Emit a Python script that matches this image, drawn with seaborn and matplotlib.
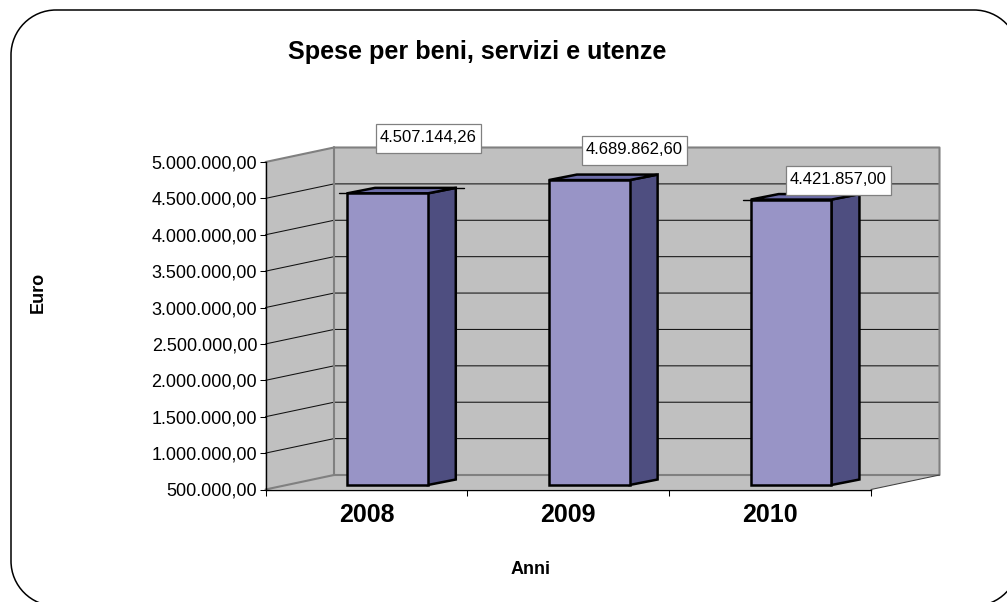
import matplotlib
matplotlib.use("Agg")
import matplotlib.pyplot as plt
import numpy as np
import pandas as pd
import seaborn as sns
from matplotlib.patches import PathPatch, Polygon, Rectangle
from matplotlib.path import Path
from matplotlib.transforms import Affine2D, IdentityTransform

# ---- data ----
years = ["2008", "2009", "2010"]
values = [4507144.26, 4689862.60, 4421857.00]
value_labels = ["4.507.144,26", "4.689.862,60", "4.421.857,00"]
y_ticks = [500000, 1000000, 1500000, 2000000, 2500000, 3000000,
           3500000, 4000000, 4500000, 5000000]
y_tick_labels = ["500.000,00", "1.000.000,00", "1.500.000,00", "2.000.000,00",
                 "2.500.000,00", "3.000.000,00", "3.500.000,00", "4.000.000,00",
                 "4.500.000,00", "5.000.000,00"]
title = "Spese per beni, servizi e utenze"
x_title = "Anni"
y_title = "Euro"

# ---- style / layout ----
W, H = 1007, 602
FRONT_FACE = "#9894C6"
SIDE_FACE = "#4E4E80"
TOP_FACE = "#6C6CA8"
WALL = "#C0C0C0"
WALL_EDGE = "#808080"
BAR_LW = 1.8
L, R, T, B = 265.5, 871.0, 162.0, 489.5     # front plane, px (y from top)
DEPTH = (68.5, 14.5)                         # wall depth, px
BAR_SHIFT = (21.0, 4.5)                      # bar front face, px
BAR_DEPTH = (28.0, 5.5)                      # bar thickness, px
LABEL_CENTRES = [(428.5, 138.5), (634, 150.5), (838.5, 180.5)]  # px from top
LABEL_BOX = (105, 29)
SPIKES = [(8, 8), (0, 0), (8, 0)]            # stray top-edge overshoots, px

sns.set_theme(style="white")
plt.rcParams["font.family"] = ["Liberation Sans", "DejaVu Sans"]

fig = plt.figure(figsize=(W / 100, H / 100), dpi=100, facecolor="white")
ax = fig.add_axes([L / W, 1 - B / H, (R - L) / W, (B - T) / H])
ax.patch.set_visible(False)
ax.set_zorder(2)

df = pd.DataFrame({"anno": years, "valore": values})
sns.barplot(data=df, x="anno", y="valore", ax=ax, width=0.4, color=FRONT_FACE,
            saturation=1, edgecolor="black", linewidth=BAR_LW, zorder=5)
ax.set_xlim(-0.5, 2.5)
ax.set_ylim(y_ticks[0], y_ticks[-1])


def shift(d):
    return ax.transData + Affine2D().translate(*d)


x0, x1 = ax.get_xlim()
y0, y1 = ax.get_ylim()
back = shift(DEPTH)
base = ax.transData
I = IdentityTransform()


def px(x, y, tr=base):
    return tr.transform((x, y))


def pline(pts, **kw):
    pts = np.array(pts)
    fig.add_artist(plt.Line2D(pts[:, 0], pts[:, 1], transform=I, **kw))


# rounded outer frame, runs off the right and bottom of the image
fl, fr, ft, fb, r = 11.0, 1019.0, 10.0, 606.0, 45.0
k = r * 0.5523
Yf = lambda y: H - y
verts = [(fl + r, Yf(ft)), (fr - r, Yf(ft)),
         (fr - r + k, Yf(ft)), (fr, Yf(ft + r - k)), (fr, Yf(ft + r)),
         (fr, Yf(fb - r)),
         (fr, Yf(fb - r + k)), (fr - r + k, Yf(fb)), (fr - r, Yf(fb)),
         (fl + r, Yf(fb)),
         (fl + r - k, Yf(fb)), (fl, Yf(fb - r + k)), (fl, Yf(fb - r)),
         (fl, Yf(ft + r)),
         (fl, Yf(ft + r - k)), (fl + r - k, Yf(ft)), (fl + r, Yf(ft))]
codes = [Path.MOVETO, Path.LINETO, Path.CURVE4, Path.CURVE4, Path.CURVE4, Path.LINETO,
         Path.CURVE4, Path.CURVE4, Path.CURVE4, Path.LINETO,
         Path.CURVE4, Path.CURVE4, Path.CURVE4, Path.LINETO,
         Path.CURVE4, Path.CURVE4, Path.CURVE4]
fig.add_artist(PathPatch(Path(verts, codes), facecolor="white", edgecolor="black", lw=1.1,
                         transform=I, zorder=0.2))

# walls and floor
wall_polys = [
    [px(x0, y0, back), px(x1, y0, back), px(x1, y1, back), px(x0, y1, back)],
    [px(x0, y0), px(x0, y0, back), px(x0, y1, back), px(x0, y1)],
    [px(x0, y0), px(x1, y0), px(x1, y0, back), px(x0, y0, back)],
]
for pts in wall_polys:
    fig.add_artist(Polygon(pts, closed=True, facecolor=WALL, edgecolor="none",
                           transform=I, zorder=0.5))

# gridlines on both walls
for t in y_ticks[1:-1]:
    pline([px(x0, t), px(x0, t, back), px(x1, t, back)], color="#111111", lw=0.75, zorder=0.7)

# wall edges
pline([px(x0, y1), px(x0, y1, back), px(x1, y1, back), px(x1, y0, back), px(x0, y0, back), px(x0, y0)],
      color=WALL_EDGE, lw=1.5, zorder=0.8)
pline([px(x0, y1, back), px(x0, y0, back)], color=WALL_EDGE, lw=1.5, zorder=0.8)
pline([px(x1, y0), px(x1, y0, back)], color="#404040", lw=0.75, zorder=0.9)

# 3D bars: rest the front faces on the axis floor, shift them, add side and top faces
s = shift(BAR_SHIFT)
d = np.array(BAR_DEPTH)
for bar, val, (sl, sr) in zip(ax.patches, values, SPIKES):
    bar.set_y(y0)
    bar.set_height(val - y0)
    bar.set_transform(s)
    bar.set_clip_on(False)
    bar.set_joinstyle("miter")
    xa, xb = bar.get_x(), bar.get_x() + bar.get_width()
    a, b, c = px(xb, y0, s), px(xb, val, s), px(xa, val, s)
    fig.add_artist(Polygon([a, a + d, b + d, b], closed=True, facecolor=SIDE_FACE,
                           edgecolor="black", linewidth=BAR_LW, joinstyle="miter",
                           transform=I, clip_on=False, zorder=1.0))
    fig.add_artist(Polygon([c, b, b + d, c + d], closed=True, facecolor=TOP_FACE,
                           edgecolor="black", linewidth=BAR_LW, joinstyle="miter",
                           transform=I, clip_on=False, zorder=1.0))
    if sl:
        pline([c, c - np.array([sl, 0])], color="black", lw=1.0, zorder=1.1)
    if sr:
        pline([b + d, b + d + np.array([sr, 0])], color="black", lw=1.0, zorder=1.1)

# axes furniture
for name, sp in ax.spines.items():
    sp.set_visible(name in ("left", "bottom"))
    sp.set_color("black")
    sp.set_linewidth(1.0)
ax.set_yticks(y_ticks)
ax.set_yticklabels(y_tick_labels, fontsize=13, color="black")
ax.set_xticks([-0.5, 0.5, 1.5, 2.5], labels=[""] * 4)
ax.tick_params(axis="both", which="major", left=True, bottom=True, length=4.5,
               width=0.75, color="black", pad=1.5)
ax.set_xlabel("")
ax.set_ylabel("")
year_tr = ax.get_xaxis_transform() + Affine2D().translate(0, -13)
for i, yr in enumerate(years):
    ax.text(i, 0, yr, transform=year_tr, ha="center", va="top",
            fontsize=18, fontweight="bold", color="black", clip_on=False)

# value labels
for lab, (cx, cy) in zip(value_labels, LABEL_CENTRES):
    bw, bh = LABEL_BOX
    fig.add_artist(Rectangle((cx - bw / 2, H - cy - bh / 2), bw, bh, facecolor="white",
                             edgecolor="#808080", linewidth=0.9, transform=I, zorder=5.5))
    fig.text(cx / W, 1 - (cy - 1) / H, lab, ha="center", va="center", fontsize=12,
             color="black", zorder=6)

# titles
fig.text(477.5 / W, 1 - 59 / H, title, ha="center", va="baseline", fontsize=18.1,
         fontweight="bold", color="black")
fig.text(531 / W, 1 - 569 / H, x_title, ha="center", va="center", fontsize=13,
         fontweight="bold", color="black")
fig.text(38 / W, 1 - 292 / H, y_title, ha="center", va="center", fontsize=13,
         fontweight="bold", rotation=90, color="black")

fig.savefig("out.png", dpi=100, facecolor="white")
